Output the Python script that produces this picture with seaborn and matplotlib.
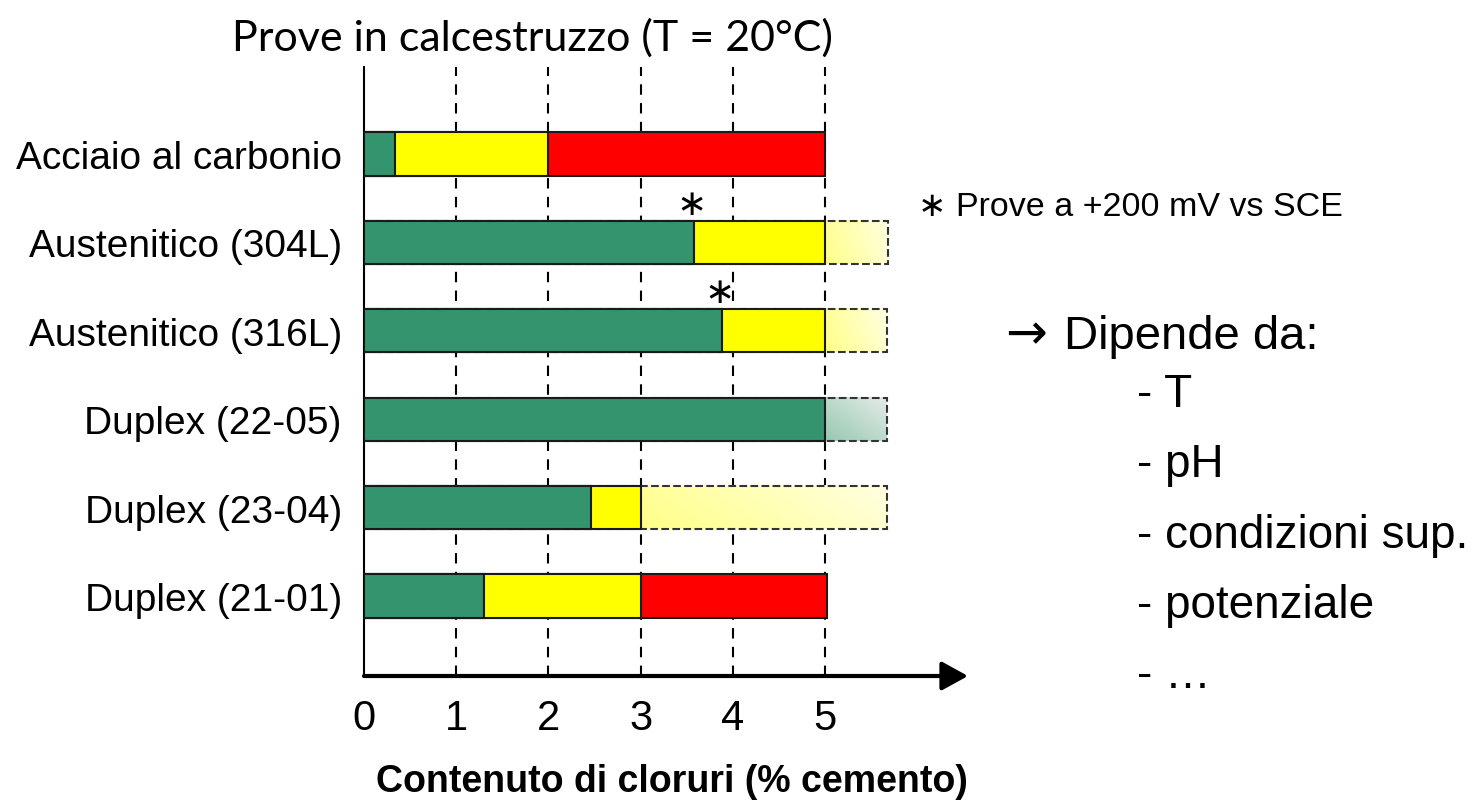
import numpy as np
import pandas as pd
import matplotlib
matplotlib.use("Agg")
import matplotlib.pyplot as plt
import seaborn as sns

# dati (tenore di cloruri, % sul cemento)
categories = ["Acciaio al carbonio", "Austenitico (304L)", "Austenitico (316L)",
              "Duplex (22-05)", "Duplex (23-04)", "Duplex (21-01)"]
green_end = [0.34, 3.58, 3.88, 5.0, 2.46, 1.30]
yellow_end = [2.0, 5.0, 5.0, np.nan, 3.0, 3.0]
red_end = [5.0, np.nan, np.nan, np.nan, np.nan, 5.02]
faded_end = [np.nan, 5.68, 5.67, 5.67, 5.67, np.nan]
faded_kind = [None, "yellow", "yellow", "green", "yellow", None]
star_rows = ["Austenitico (304L)", "Austenitico (316L)"]
xticks = [0, 1, 2, 3, 4, 5]
notes = ["- T", "- pH", "- condizioni sup.", "- potenziale", "- …"]

df = pd.DataFrame({"cat": categories, "green": green_end, "yellow": yellow_end,
                   "red": red_end, "faded": faded_end})

sns.set_theme(style="white")
plt.rcParams["font.family"] = ["Liberation Sans", "DejaVu Sans"]
plt.rcParams["text.color"] = "black"
plt.rcParams["xtick.color"] = "black"
plt.rcParams["ytick.color"] = "black"
plt.rcParams["axes.labelcolor"] = "black"

fig = plt.figure(figsize=(14.75, 8.03), dpi=100)
ax = fig.add_axes([364 / 1475, 126 / 803, 604 / 1475, 609 / 803])

XMAX = 6.55
YLIM = (5.905, -0.984)
BW = 0.49

# linee verticali tratteggiate
for x in xticks[1:]:
    ax.axvline(x, color="black", lw=1.5, ls=(0, (5, 4)), zorder=1)

# parte sfumata (incerta) con bordo tratteggiato
sub = df.dropna(subset=["faded"])
sns.barplot(data=sub, x="faded", y="cat", order=categories, orient="h",
            color="white", saturation=1, width=BW, edgecolor="#333333",
            linewidth=1.5, linestyle="--", errorbar=None, zorder=3, ax=ax)
for p in ax.containers[-1]:
    p.set_facecolor("none")

ny, nx = 40, 120
cc, rr = np.meshgrid(np.linspace(0, 1, nx), np.linspace(0, 1, ny))
for i, cat in enumerate(categories):
    if faded_kind[i] is None:
        continue
    start = np.nanmax([green_end[i], yellow_end[i]])
    if faded_kind[i] == "yellow":
        c0, c1 = np.array([255, 255, 135]), np.array([255, 255, 225])
        t = 0.8 * cc + 0.2 * (1 - rr)
    else:
        c0, c1 = np.array([150, 200, 175]), np.array([228, 236, 232])
        t = 0.5 * cc + 0.5 * (1 - rr)
    img = (c0 + (c1 - c0) * t[..., None]) / 255
    ax.imshow(img, extent=(start, faded_end[i], i + BW / 2, i - BW / 2),
              aspect="auto", interpolation="bilinear", zorder=2)

# barre piene: rosso, giallo, verde
for col, colour, z in [("red", "#FF0000", 4), ("yellow", "#FFFF00", 5), ("green", "#33946E", 6)]:
    sub = df.dropna(subset=[col])
    sns.barplot(data=sub, x=col, y="cat", order=categories, orient="h",
                color=colour, saturation=1, width=BW, edgecolor="#1a1a1a",
                linewidth=1.5, errorbar=None, zorder=z, ax=ax)

# asterischi
for cat in star_rows:
    i = categories.index(cat)
    ax.text(green_end[i] - 0.03, i - BW / 2 - 0.19, "∗", ha="center", va="center",
            fontsize=26, family="DejaVu Sans", zorder=7)

ax.set_xlim(0, XMAX)
ax.set_ylim(*YLIM)
ax.set_xticks(xticks)
ax.set_xticklabels([str(v) for v in xticks], fontsize=30)
ax.tick_params(axis="x", length=0, pad=16)
ax.tick_params(axis="y", length=0, pad=16, labelsize=28)
ax.set_xlabel("")
ax.set_ylabel("")
for s in ["top", "right", "bottom"]:
    ax.spines[s].set_visible(False)
ax.spines["left"].set_color("black")
ax.spines["left"].set_linewidth(1.5)

# asse x con freccia
ax.annotate("", xy=(1.0, 0), xytext=(0, 0), xycoords="axes fraction",
            arrowprops=dict(arrowstyle="-|>,head_length=0.4,head_width=0.22",
                            lw=3, color="black", mutation_scale=40,
                            shrinkA=0, shrinkB=0), annotation_clip=False)

fig.text(532 / 1475, 1 - 38 / 803, "Prove in calcestruzzo (T = 20°C)",
         ha="center", va="center", fontsize=31, family="Lato")
fig.text(672 / 1475, 1 - 782 / 803, "Contenuto di cloruri (% cemento)",
         ha="center", va="center", fontsize=27, fontweight="bold")
fig.text(918 / 1475, 1 - 208 / 803, "∗ Prove a +200 mV vs SCE",
         ha="left", va="center", fontsize=24.5)
fig.text(1005 / 1475, 1 - 349 / 803, "→", ha="left", va="baseline",
         fontsize=36, family="DejaVu Sans")
fig.text(1064 / 1475, 1 - 349 / 803, "Dipende da:",
         ha="left", va="baseline", fontsize=34)
for k, note in enumerate(notes):
    fig.text(1137 / 1475, 1 - (407 + 70.3 * k) / 803, note,
             ha="left", va="baseline", fontsize=33)

fig.savefig("out.png", dpi=100, facecolor="white")
